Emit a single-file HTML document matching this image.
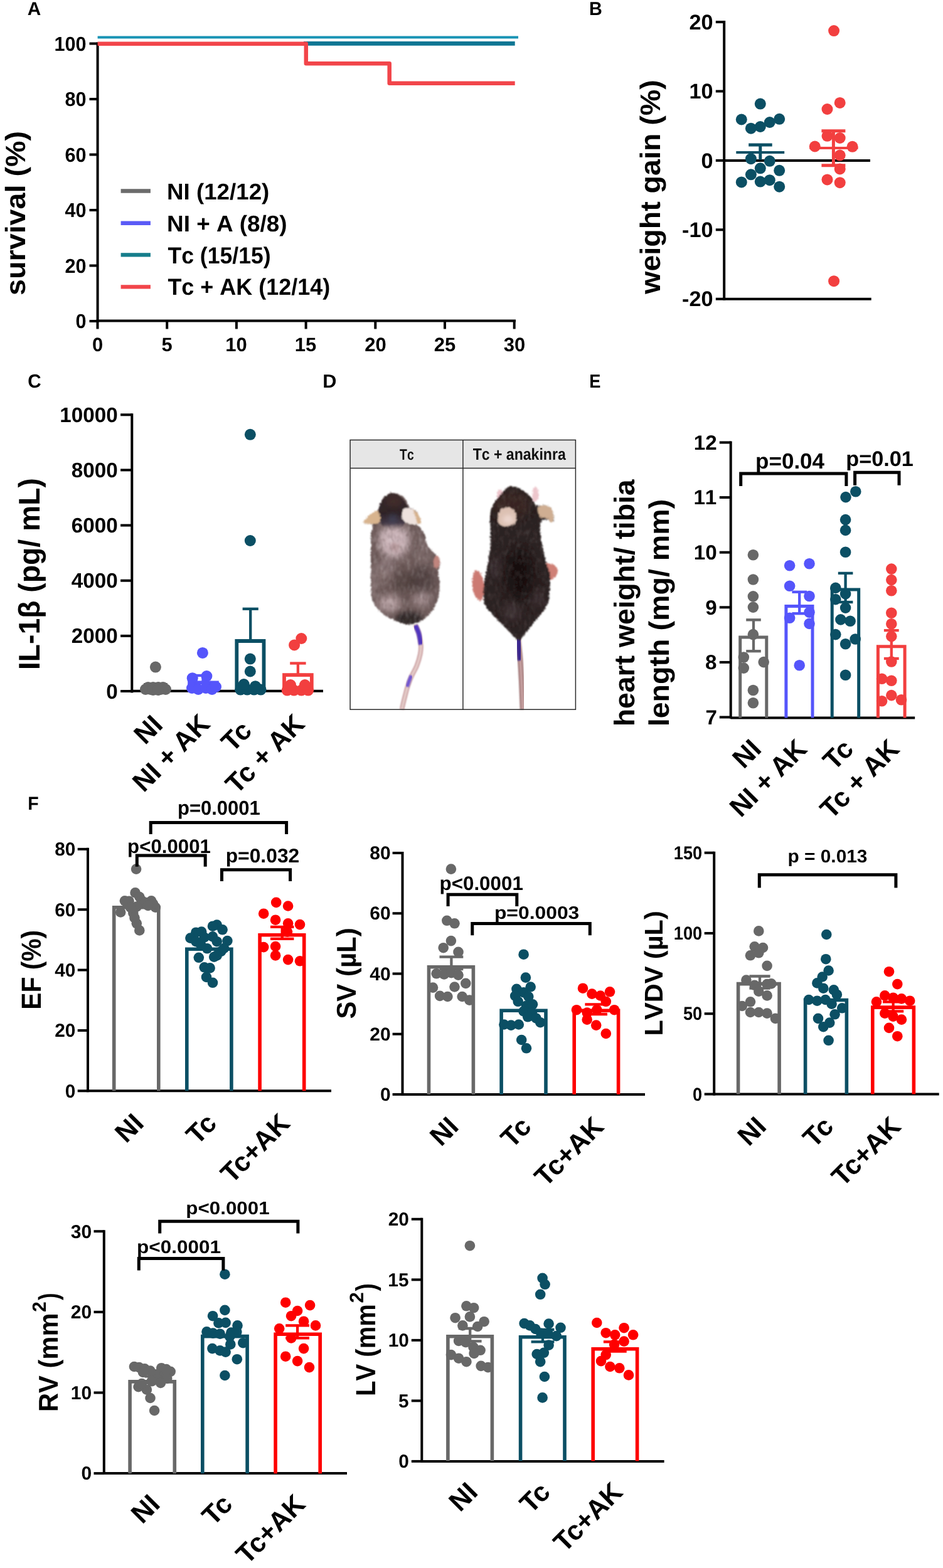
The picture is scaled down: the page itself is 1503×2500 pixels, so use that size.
<!DOCTYPE html>
<html><head><meta charset="utf-8"><title>Figure</title>
<style>
html,body{margin:0;padding:0;background:#fff;}
body{width:1503px;height:2500px;overflow:hidden;}
svg{display:block;font-kerning:none;text-rendering:geometricPrecision;}
</style></head><body>
<svg width="1503" height="2500" viewBox="0 0 1503 2500" font-family="'Liberation Sans', Arial, sans-serif" font-weight="bold"><text x="43.66" y="23.80" font-size="29.94" textLength="21.53" lengthAdjust="spacingAndGlyphs" fill="#000">A</text>
<text x="938.97" y="23.90" font-size="30.09" textLength="20.84" lengthAdjust="spacingAndGlyphs" fill="#000">B</text>
<text x="44.18" y="618.00" font-size="30.51" textLength="21.43" lengthAdjust="spacingAndGlyphs" fill="#000">C</text>
<text x="514.15" y="617.90" font-size="30.23" textLength="22.14" lengthAdjust="spacingAndGlyphs" fill="#000">D</text>
<text x="939.18" y="617.90" font-size="30.23" textLength="18.19" lengthAdjust="spacingAndGlyphs" fill="#000">E</text>
<text x="44.29" y="1290.50" font-size="29.65" textLength="17.46" lengthAdjust="spacingAndGlyphs" fill="#000">F</text>
<line x1="155.60" y1="67.50" x2="155.60" y2="513.50" stroke="#000" stroke-width="4.00"/>
<line x1="142.50" y1="512.00" x2="155.60" y2="512.00" stroke="#000" stroke-width="4.00"/>
<text x="120.53" y="523.04" font-size="32.06" textLength="17.03" lengthAdjust="spacingAndGlyphs" fill="#000">0</text>
<line x1="142.50" y1="423.50" x2="155.60" y2="423.50" stroke="#000" stroke-width="4.00"/>
<text x="103.50" y="434.54" font-size="32.06" textLength="34.06" lengthAdjust="spacingAndGlyphs" fill="#000">20</text>
<line x1="142.50" y1="335.00" x2="155.60" y2="335.00" stroke="#000" stroke-width="4.00"/>
<text x="103.50" y="346.04" font-size="32.06" textLength="34.06" lengthAdjust="spacingAndGlyphs" fill="#000">40</text>
<line x1="142.50" y1="246.50" x2="155.60" y2="246.50" stroke="#000" stroke-width="4.00"/>
<text x="103.50" y="257.54" font-size="32.06" textLength="34.06" lengthAdjust="spacingAndGlyphs" fill="#000">60</text>
<line x1="142.50" y1="158.00" x2="155.60" y2="158.00" stroke="#000" stroke-width="4.00"/>
<text x="103.50" y="169.04" font-size="32.06" textLength="34.06" lengthAdjust="spacingAndGlyphs" fill="#000">80</text>
<line x1="142.50" y1="69.50" x2="155.60" y2="69.50" stroke="#000" stroke-width="4.00"/>
<text x="86.47" y="80.54" font-size="32.06" textLength="51.08" lengthAdjust="spacingAndGlyphs" fill="#000">100</text>
<line x1="153.60" y1="511.50" x2="822.00" y2="511.50" stroke="#000" stroke-width="4.00"/>
<line x1="155.50" y1="511.50" x2="155.50" y2="524.50" stroke="#000" stroke-width="4.00"/>
<text x="146.90" y="560.00" font-size="31.00" textLength="17.24" lengthAdjust="spacingAndGlyphs" fill="#000">0</text>
<line x1="266.20" y1="511.50" x2="266.20" y2="524.50" stroke="#000" stroke-width="4.00"/>
<text x="257.53" y="560.00" font-size="31.00" textLength="17.24" lengthAdjust="spacingAndGlyphs" fill="#000">5</text>
<line x1="376.90" y1="511.50" x2="376.90" y2="524.50" stroke="#000" stroke-width="4.00"/>
<text x="359.32" y="560.00" font-size="31.00" textLength="34.48" lengthAdjust="spacingAndGlyphs" fill="#000">10</text>
<line x1="487.60" y1="511.50" x2="487.60" y2="524.50" stroke="#000" stroke-width="4.00"/>
<text x="469.81" y="560.00" font-size="31.00" textLength="34.48" lengthAdjust="spacingAndGlyphs" fill="#000">15</text>
<line x1="598.30" y1="511.50" x2="598.30" y2="524.50" stroke="#000" stroke-width="4.00"/>
<text x="581.16" y="560.00" font-size="31.00" textLength="34.48" lengthAdjust="spacingAndGlyphs" fill="#000">20</text>
<line x1="709.00" y1="511.50" x2="709.00" y2="524.50" stroke="#000" stroke-width="4.00"/>
<text x="691.65" y="560.00" font-size="31.00" textLength="34.48" lengthAdjust="spacingAndGlyphs" fill="#000">25</text>
<line x1="819.70" y1="511.50" x2="819.70" y2="524.50" stroke="#000" stroke-width="4.00"/>
<text x="802.74" y="560.00" font-size="31.00" textLength="34.48" lengthAdjust="spacingAndGlyphs" fill="#000">30</text>
<line x1="155.60" y1="59.40" x2="826.00" y2="59.40" stroke="#1893b4" stroke-width="4.00"/>
<line x1="484.00" y1="69.40" x2="820.70" y2="69.40" stroke="#0e7693" stroke-width="6.80"/>
<path d="M155.6 69.7 H487.8 V101.3 H620.7 V132.8 H820.7" stroke="#f2454a" stroke-width="6.50" fill="none" stroke-linejoin="round"/>
<line x1="192.60" y1="304.50" x2="239.90" y2="304.50" stroke="#6b6b6b" stroke-width="6.40"/>
<line x1="192.60" y1="355.70" x2="239.90" y2="355.70" stroke="#5a5af6" stroke-width="6.40"/>
<line x1="192.60" y1="406.40" x2="239.90" y2="406.40" stroke="#157d8b" stroke-width="6.40"/>
<line x1="192.60" y1="457.40" x2="239.90" y2="457.40" stroke="#f2454a" stroke-width="6.40"/>
<text x="266.04" y="318.30" font-size="36.34" textLength="163.29" lengthAdjust="spacingAndGlyphs" fill="#000">NI (12/12)</text>
<text x="266.03" y="368.50" font-size="36.19" textLength="191.60" lengthAdjust="spacingAndGlyphs" fill="#000">NI + A (8/8)</text>
<text x="267.40" y="419.50" font-size="37.06" textLength="164.27" lengthAdjust="spacingAndGlyphs" fill="#000">Tc (15/15)</text>
<text x="267.40" y="469.70" font-size="37.06" textLength="258.90" lengthAdjust="spacingAndGlyphs" fill="#000">Tc + AK (12/14)</text>
<text transform="translate(40.30 470.94) rotate(-90)" x="0" y="0" font-size="44.50" textLength="261.97" lengthAdjust="spacingAndGlyphs" fill="#000">survival (%)</text>
<line x1="1154.20" y1="33.10" x2="1154.20" y2="478.70" stroke="#000" stroke-width="4.00"/>
<line x1="1140.80" y1="35.10" x2="1154.20" y2="35.10" stroke="#000" stroke-width="4.00"/>
<text x="1098.41" y="46.77" font-size="33.90" textLength="38.09" lengthAdjust="spacingAndGlyphs" fill="#000">20</text>
<line x1="1140.80" y1="145.50" x2="1154.20" y2="145.50" stroke="#000" stroke-width="4.00"/>
<text x="1098.41" y="157.17" font-size="33.90" textLength="38.09" lengthAdjust="spacingAndGlyphs" fill="#000">10</text>
<line x1="1140.80" y1="255.90" x2="1154.20" y2="255.90" stroke="#000" stroke-width="4.00"/>
<text x="1117.46" y="267.57" font-size="33.90" textLength="19.05" lengthAdjust="spacingAndGlyphs" fill="#000">0</text>
<line x1="1140.80" y1="366.30" x2="1154.20" y2="366.30" stroke="#000" stroke-width="4.00"/>
<text x="1087.01" y="377.97" font-size="33.90" textLength="49.50" lengthAdjust="spacingAndGlyphs" fill="#000">-10</text>
<line x1="1140.80" y1="476.70" x2="1154.20" y2="476.70" stroke="#000" stroke-width="4.00"/>
<text x="1087.01" y="488.37" font-size="33.90" textLength="49.50" lengthAdjust="spacingAndGlyphs" fill="#000">-20</text>
<line x1="1154.30" y1="476.70" x2="1388.70" y2="476.70" stroke="#000" stroke-width="4.00"/>
<line x1="1154.30" y1="256.10" x2="1387.00" y2="256.10" stroke="#000" stroke-width="4.00"/>
<text transform="translate(1052.40 468.86) rotate(-90)" x="0" y="0" font-size="45.00" textLength="341.68" lengthAdjust="spacingAndGlyphs" fill="#000">weight gain (%)</text>
<g fill="#0b4f64"><circle cx="1211.8" cy="165.6" r="9.00"/><circle cx="1181.8" cy="190.5" r="9.00"/><circle cx="1242.2" cy="189.8" r="9.00"/><circle cx="1226.8" cy="195.0" r="9.00"/><circle cx="1211.8" cy="202.0" r="9.00"/><circle cx="1196.9" cy="204.7" r="9.00"/><circle cx="1196.9" cy="253.2" r="9.00"/><circle cx="1226.8" cy="256.8" r="9.00"/><circle cx="1211.8" cy="268.3" r="9.00"/><circle cx="1242.2" cy="271.8" r="9.00"/><circle cx="1196.9" cy="278.3" r="9.00"/><circle cx="1181.8" cy="290.4" r="9.00"/><circle cx="1211.8" cy="289.6" r="9.00"/><circle cx="1226.8" cy="287.2" r="9.00"/><circle cx="1242.2" cy="297.7" r="9.00"/></g>
<line x1="1173.30" y1="242.90" x2="1250.20" y2="242.90" stroke="#0b4f64" stroke-width="4.00"/>
<line x1="1211.80" y1="231.00" x2="1211.80" y2="254.80" stroke="#0b4f64" stroke-width="5.00"/>
<line x1="1193.20" y1="231.00" x2="1230.70" y2="231.00" stroke="#0b4f64" stroke-width="5.00"/>
<g fill="#f23f3f"><circle cx="1329.1" cy="49.1" r="9.00"/><circle cx="1338.7" cy="163.9" r="9.00"/><circle cx="1318.5" cy="174.0" r="9.00"/><circle cx="1318.5" cy="216.8" r="9.00"/><circle cx="1338.7" cy="220.0" r="9.00"/><circle cx="1298.8" cy="233.5" r="9.00"/><circle cx="1358.6" cy="233.8" r="9.00"/><circle cx="1338.7" cy="247.6" r="9.00"/><circle cx="1338.7" cy="269.4" r="9.00"/><circle cx="1318.5" cy="286.4" r="9.00"/><circle cx="1338.7" cy="291.2" r="9.00"/><circle cx="1329.1" cy="448.2" r="9.00"/></g>
<line x1="1290.50" y1="235.90" x2="1367.50" y2="235.90" stroke="#f23f3f" stroke-width="4.00"/>
<line x1="1328.40" y1="208.70" x2="1328.40" y2="263.70" stroke="#f23f3f" stroke-width="5.00"/>
<line x1="1309.40" y1="208.70" x2="1347.40" y2="208.70" stroke="#f23f3f" stroke-width="5.00"/>
<line x1="1309.40" y1="263.70" x2="1347.40" y2="263.70" stroke="#f23f3f" stroke-width="5.00"/>
<line x1="210.30" y1="659.30" x2="210.30" y2="1104.40" stroke="#000" stroke-width="4.00"/>
<line x1="192.10" y1="1102.00" x2="210.30" y2="1102.00" stroke="#000" stroke-width="4.00"/>
<text x="169.28" y="1113.52" font-size="33.47" textLength="18.48" lengthAdjust="spacingAndGlyphs" fill="#000">0</text>
<line x1="192.10" y1="1013.86" x2="210.30" y2="1013.86" stroke="#000" stroke-width="4.00"/>
<text x="113.85" y="1025.38" font-size="33.47" textLength="73.91" lengthAdjust="spacingAndGlyphs" fill="#000">2000</text>
<line x1="192.10" y1="925.72" x2="210.30" y2="925.72" stroke="#000" stroke-width="4.00"/>
<text x="113.85" y="937.24" font-size="33.47" textLength="73.91" lengthAdjust="spacingAndGlyphs" fill="#000">4000</text>
<line x1="192.10" y1="837.58" x2="210.30" y2="837.58" stroke="#000" stroke-width="4.00"/>
<text x="113.85" y="849.10" font-size="33.47" textLength="73.91" lengthAdjust="spacingAndGlyphs" fill="#000">6000</text>
<line x1="192.10" y1="749.44" x2="210.30" y2="749.44" stroke="#000" stroke-width="4.00"/>
<text x="113.85" y="760.96" font-size="33.47" textLength="73.91" lengthAdjust="spacingAndGlyphs" fill="#000">8000</text>
<line x1="192.10" y1="661.30" x2="210.30" y2="661.30" stroke="#000" stroke-width="4.00"/>
<text x="95.37" y="672.82" font-size="33.47" textLength="92.39" lengthAdjust="spacingAndGlyphs" fill="#000">10000</text>
<line x1="210.40" y1="1101.80" x2="515.00" y2="1101.80" stroke="#000" stroke-width="4.00"/>
<text transform="translate(62.70 1068.10) rotate(-90)" x="0" y="0" font-size="47.50" textLength="306.10" lengthAdjust="spacingAndGlyphs" fill="#000">IL-1β (pg/ mL)</text>
<path d="M231.75 1102.00 V1091.75 H264.25 V1102.00" stroke="#686868" stroke-width="5.50" fill="none" stroke-linejoin="miter"/>
<g fill="#686868"><circle cx="247.9" cy="1063.6" r="9.00"/><circle cx="232.0" cy="1099.0" r="9.00"/><circle cx="240.0" cy="1099.0" r="9.00"/><circle cx="248.0" cy="1099.0" r="9.00"/><circle cx="256.0" cy="1099.0" r="9.00"/><circle cx="264.0" cy="1099.0" r="9.00"/><circle cx="236.0" cy="1096.0" r="9.00"/><circle cx="244.0" cy="1096.0" r="9.00"/><circle cx="252.0" cy="1096.0" r="9.00"/><circle cx="260.0" cy="1096.0" r="9.00"/><circle cx="244.0" cy="1100.0" r="9.00"/><circle cx="252.0" cy="1100.0" r="9.00"/></g>
<path d="M301.95 1102.00 V1088.35 H346.05 V1102.00" stroke="#5555fb" stroke-width="5.50" fill="none" stroke-linejoin="miter"/>
<g fill="#5555fb"><circle cx="322.9" cy="1040.9" r="9.00"/><circle cx="306.7" cy="1081.2" r="9.00"/><circle cx="329.4" cy="1078.0" r="9.00"/><circle cx="306.0" cy="1097.0" r="9.00"/><circle cx="316.0" cy="1099.0" r="9.00"/><circle cx="328.0" cy="1097.0" r="9.00"/><circle cx="338.0" cy="1099.0" r="9.00"/><circle cx="344.0" cy="1095.0" r="9.00"/></g>
<line x1="323.50" y1="1077.00" x2="323.50" y2="1088.00" stroke="#5555fb" stroke-width="4.30"/>
<line x1="311.50" y1="1077.00" x2="335.50" y2="1077.00" stroke="#5555fb" stroke-width="4.30"/>
<line x1="311.50" y1="1088.00" x2="335.50" y2="1088.00" stroke="#5555fb" stroke-width="4.30"/>
<path d="M377.30 1102.00 V1022.00 H420.50 V1102.00" stroke="#0b4f64" stroke-width="5.80" fill="none" stroke-linejoin="miter"/>
<line x1="399.20" y1="970.80" x2="399.20" y2="1022.00" stroke="#0b4f64" stroke-width="4.30"/>
<line x1="386.60" y1="970.80" x2="411.80" y2="970.80" stroke="#0b4f64" stroke-width="4.30"/>
<line x1="386.60" y1="1022.00" x2="411.80" y2="1022.00" stroke="#0b4f64" stroke-width="4.30"/>
<g fill="#0b4f64"><circle cx="398.8" cy="692.8" r="9.00"/><circle cx="398.8" cy="862.0" r="9.00"/><circle cx="398.8" cy="1050.6" r="9.00"/><circle cx="398.8" cy="1070.5" r="9.00"/><circle cx="383.3" cy="1099.6" r="9.00"/><circle cx="394.0" cy="1099.6" r="9.00"/><circle cx="404.9" cy="1099.6" r="9.00"/><circle cx="415.6" cy="1099.6" r="9.00"/><circle cx="388.7" cy="1091.0" r="9.00"/><circle cx="407.0" cy="1094.2" r="9.00"/></g>
<path d="M453.00 1102.00 V1076.20 H496.80 V1102.00" stroke="#f23f3f" stroke-width="5.80" fill="none" stroke-linejoin="miter"/>
<line x1="474.90" y1="1057.50" x2="474.90" y2="1076.00" stroke="#f23f3f" stroke-width="4.30"/>
<line x1="462.20" y1="1057.50" x2="487.60" y2="1057.50" stroke="#f23f3f" stroke-width="4.30"/>
<line x1="462.20" y1="1076.00" x2="487.60" y2="1076.00" stroke="#f23f3f" stroke-width="4.30"/>
<g fill="#f23f3f"><circle cx="480.3" cy="1018.0" r="9.00"/><circle cx="469.1" cy="1028.4" r="9.00"/><circle cx="457.7" cy="1100.6" r="9.00"/><circle cx="468.5" cy="1100.6" r="9.00"/><circle cx="480.3" cy="1100.6" r="9.00"/><circle cx="491.1" cy="1100.6" r="9.00"/><circle cx="463.0" cy="1092.0" r="9.00"/><circle cx="486.0" cy="1092.0" r="9.00"/></g>
<text transform="translate(261.60 1158.30) rotate(-45)" x="0" y="0" font-size="43.00" text-anchor="end" style="font-kerning:normal" fill="#000">NI</text>
<text transform="translate(336.90 1156.80) rotate(-45)" x="0" y="0" font-size="43.00" text-anchor="end" style="font-kerning:normal" fill="#000">NI + AK</text>
<text transform="translate(403.70 1167.50) rotate(-45)" x="0" y="0" font-size="43.00" text-anchor="end" style="font-kerning:normal" fill="#000">Tc</text>
<text transform="translate(487.90 1156.80) rotate(-45)" x="0" y="0" font-size="43.00" text-anchor="end" style="font-kerning:normal" fill="#000">Tc + AK</text>
<rect x="558.1" y="701.5" width="359.3" height="45.1" fill="#e6e6e6"/>
<defs><filter id="bl1" x="-20%" y="-20%" width="140%" height="140%"><feGaussianBlur stdDeviation="1.1"/></filter><filter id="bl3" x="-50%" y="-50%" width="200%" height="200%"><feGaussianBlur stdDeviation="3.5"/></filter><filter id="bl6" x="-50%" y="-50%" width="200%" height="200%"><feGaussianBlur stdDeviation="6"/></filter><filter id="fur" x="0" y="0" width="100%" height="100%"><feTurbulence type="fractalNoise" baseFrequency="0.28 0.09" numOctaves="3" seed="7" result="n"/><feColorMatrix in="n" type="matrix" values="0 0 0 0 1  0 0 0 0 1  0 0 0 0 1  1.6 0 0 0 -0.75"/></filter><filter id="furd" x="0" y="0" width="100%" height="100%"><feTurbulence type="fractalNoise" baseFrequency="0.3 0.1" numOctaves="3" seed="11" result="n"/><feColorMatrix in="n" type="matrix" values="0 0 0 0 0.05  0 0 0 0 0.03  0 0 0 0 0.03  1.8 0 0 0 -0.85"/></filter><filter id="furry" x="-10%" y="-10%" width="120%" height="120%"><feTurbulence type="fractalNoise" baseFrequency="0.45" numOctaves="2" seed="3" result="t"/><feDisplacementMap in="SourceGraphic" in2="t" scale="5" xChannelSelector="R" yChannelSelector="G" result="d"/><feGaussianBlur in="d" stdDeviation="0.9"/></filter><clipPath id="c1"><path d="M624.6 786.2 C628.4 786.0 634.3 787.2 638.0 789.0 C641.7 790.8 644.7 793.8 647.0 797.0 C649.3 800.2 649.7 805.3 652.0 808.0 C654.3 810.7 658.5 810.8 661.0 813.0 C663.5 815.2 665.4 817.7 667.0 821.0 C668.6 824.3 671.0 830.4 670.5 833.0 C670.0 835.6 664.1 835.2 664.0 836.5 C663.9 837.8 667.8 838.2 670.0 841.0 C672.2 843.8 675.2 848.3 677.0 853.0 C678.8 857.7 678.8 864.5 681.0 869.0 C683.2 873.5 686.8 876.3 690.0 880.0 C693.2 883.7 698.2 887.0 700.0 891.0 C701.8 895.0 701.3 900.5 701.0 904.0 C700.7 907.5 698.1 908.5 698.0 912.0 C697.9 915.5 700.1 920.3 700.5 925.0 C700.9 929.7 700.9 935.0 700.5 940.0 C700.1 945.0 699.4 950.2 698.0 955.0 C696.6 959.8 694.8 964.3 692.0 969.0 C689.2 973.7 685.2 979.2 681.0 983.0 C676.8 986.8 671.8 989.9 667.0 992.0 C662.2 994.1 657.2 995.5 652.0 995.5 C646.8 995.5 641.3 993.8 636.0 992.0 C630.7 990.2 625.0 987.8 620.0 985.0 C615.0 982.2 610.0 978.8 606.0 975.0 C602.0 971.2 598.4 967.0 596.0 962.0 C593.6 957.0 592.3 952.8 591.5 945.0 C590.7 937.2 591.1 925.8 591.0 915.0 C590.9 904.2 590.9 890.5 591.0 880.0 C591.1 869.5 591.0 859.0 591.5 852.0 C592.0 845.0 594.9 840.9 594.0 838.0 C593.1 835.1 588.4 835.3 586.0 834.5 C583.6 833.7 579.4 835.1 579.6 833.2 C579.8 831.3 584.1 825.9 587.0 823.0 C589.9 820.1 594.2 818.0 597.0 816.0 C599.8 814.0 602.2 814.0 604.0 811.0 C605.8 808.0 606.2 801.5 608.0 798.0 C609.8 794.5 612.2 792.0 615.0 790.0 C617.8 788.0 620.8 786.4 624.6 786.2 Z"/></clipPath><clipPath id="c2"><path d="M812.8 775.4 C816.6 774.6 821.6 776.2 826.0 778.0 C830.4 779.8 835.2 783.0 839.0 786.0 C842.8 789.0 846.5 792.7 849.0 796.0 C851.5 799.3 851.3 804.5 854.3 806.0 C857.3 807.5 863.0 804.3 867.0 805.0 C871.0 805.7 875.5 807.2 878.0 810.0 C880.5 812.8 881.5 818.3 882.0 822.0 C882.5 825.7 883.3 831.0 881.0 832.0 C878.7 833.0 871.3 827.3 868.0 828.0 C864.7 828.7 862.0 831.5 861.0 836.0 C860.0 840.5 861.3 848.6 862.0 855.0 C862.7 861.4 864.1 868.1 865.3 874.3 C866.5 880.5 867.9 887.4 869.0 892.0 C870.1 896.6 870.7 897.7 872.0 902.0 C873.3 906.3 876.3 912.6 877.0 918.0 C877.7 923.4 876.5 929.2 876.2 934.5 C876.0 939.8 876.0 945.4 875.5 950.0 C875.0 954.6 874.9 957.5 873.0 962.0 C871.1 966.5 867.3 972.3 864.0 977.0 C860.7 981.7 856.5 985.7 853.0 990.0 C849.5 994.3 846.1 999.2 843.0 1003.0 C839.9 1006.8 837.0 1010.1 834.5 1013.0 C832.0 1015.9 830.4 1019.8 828.1 1020.5 C825.9 1021.2 823.9 1019.9 821.0 1017.5 C818.1 1015.1 814.7 1009.9 811.0 1006.0 C807.3 1002.1 803.2 998.2 799.0 994.0 C794.8 989.8 790.0 985.3 786.0 981.0 C782.0 976.7 777.5 972.3 775.0 968.0 C772.5 963.7 771.7 960.5 771.0 955.0 C770.3 949.5 770.3 942.2 771.0 935.0 C771.7 927.8 773.8 919.0 775.0 912.0 C776.2 905.0 777.4 900.0 778.5 893.0 C779.6 886.0 781.0 878.0 781.5 870.0 C782.0 862.0 781.6 853.0 781.5 845.0 C781.4 837.0 780.4 828.5 781.0 822.0 C781.6 815.5 782.7 811.0 785.0 806.0 C787.3 801.0 792.0 795.8 795.0 792.0 C798.0 788.2 800.0 785.8 803.0 783.0 C806.0 780.2 809.0 776.2 812.8 775.4 Z"/></clipPath></defs>
<path d="M662.0 996.0 C662.9 998.3 666.0 1004.7 667.5 1010.0 C669.0 1015.3 670.4 1022.2 670.8 1027.7 C671.2 1033.2 670.9 1037.1 669.8 1042.8 C668.7 1048.5 666.4 1056.0 664.2 1061.7 C662.0 1067.4 658.9 1071.8 656.6 1076.8 C654.3 1081.8 652.3 1086.8 650.5 1092.0 C648.7 1097.2 647.3 1103.0 646.0 1108.0 C644.7 1113.0 643.4 1118.2 642.5 1122.0 C641.6 1125.8 640.9 1129.5 640.6 1131.0 " stroke="#c99ea0" stroke-width="7.4" fill="none" filter="url(#bl1)"/>
<path d="M662.0 996.0 C662.9 998.3 666.0 1004.7 667.5 1010.0 C669.0 1015.3 670.4 1022.2 670.8 1027.7 C671.2 1033.2 670.9 1037.1 669.8 1042.8 C668.7 1048.5 666.4 1056.0 664.2 1061.7 C662.0 1067.4 658.9 1071.8 656.6 1076.8 C654.3 1081.8 652.3 1086.8 650.5 1092.0 C648.7 1097.2 647.3 1103.0 646.0 1108.0 C644.7 1113.0 643.4 1118.2 642.5 1122.0 C641.6 1125.8 640.9 1129.5 640.6 1131.0 " stroke="#e4cbc8" stroke-width="4.2" fill="none" filter="url(#bl1)"/>
<path d="M662.0 997.0 C662.9 999.2 666.0 1004.9 667.5 1010.0 C669.0 1015.1 670.2 1024.8 670.8 1027.7 " stroke="#4f35bd" stroke-width="7.2" fill="none" filter="url(#bl1)"/>
<path d="M655.5 1077.0 C654.9 1078.5 653.1 1083.0 652.0 1086.0 C650.9 1089.0 649.5 1093.5 649.0 1095.0 " stroke="#6f55d0" stroke-width="5.5" fill="none" filter="url(#bl1)"/>
<g filter="url(#furry)">
<path d="M624.6 786.2 C628.4 786.0 634.3 787.2 638.0 789.0 C641.7 790.8 644.7 793.8 647.0 797.0 C649.3 800.2 649.7 805.3 652.0 808.0 C654.3 810.7 658.5 810.8 661.0 813.0 C663.5 815.2 665.4 817.7 667.0 821.0 C668.6 824.3 671.0 830.4 670.5 833.0 C670.0 835.6 664.1 835.2 664.0 836.5 C663.9 837.8 667.8 838.2 670.0 841.0 C672.2 843.8 675.2 848.3 677.0 853.0 C678.8 857.7 678.8 864.5 681.0 869.0 C683.2 873.5 686.8 876.3 690.0 880.0 C693.2 883.7 698.2 887.0 700.0 891.0 C701.8 895.0 701.3 900.5 701.0 904.0 C700.7 907.5 698.1 908.5 698.0 912.0 C697.9 915.5 700.1 920.3 700.5 925.0 C700.9 929.7 700.9 935.0 700.5 940.0 C700.1 945.0 699.4 950.2 698.0 955.0 C696.6 959.8 694.8 964.3 692.0 969.0 C689.2 973.7 685.2 979.2 681.0 983.0 C676.8 986.8 671.8 989.9 667.0 992.0 C662.2 994.1 657.2 995.5 652.0 995.5 C646.8 995.5 641.3 993.8 636.0 992.0 C630.7 990.2 625.0 987.8 620.0 985.0 C615.0 982.2 610.0 978.8 606.0 975.0 C602.0 971.2 598.4 967.0 596.0 962.0 C593.6 957.0 592.3 952.8 591.5 945.0 C590.7 937.2 591.1 925.8 591.0 915.0 C590.9 904.2 590.9 890.5 591.0 880.0 C591.1 869.5 591.0 859.0 591.5 852.0 C592.0 845.0 594.9 840.9 594.0 838.0 C593.1 835.1 588.4 835.3 586.0 834.5 C583.6 833.7 579.4 835.1 579.6 833.2 C579.8 831.3 584.1 825.9 587.0 823.0 C589.9 820.1 594.2 818.0 597.0 816.0 C599.8 814.0 602.2 814.0 604.0 811.0 C605.8 808.0 606.2 801.5 608.0 798.0 C609.8 794.5 612.2 792.0 615.0 790.0 C617.8 788.0 620.8 786.4 624.6 786.2 Z" fill="#6f5c5b"/>
<g clip-path="url(#c1)">
<ellipse cx="628" cy="862" rx="25" ry="28" fill="#d4bdc2" opacity="0.9" filter="url(#bl6)"/>
<ellipse cx="615" cy="905" rx="14" ry="16" fill="#a89498" opacity="0.5" filter="url(#bl6)"/>
<ellipse cx="630" cy="872" rx="6" ry="5" fill="#8a5a58" opacity="0.5" filter="url(#bl3)"/>
<ellipse cx="676" cy="880" rx="12" ry="22" fill="#8e7c7c" opacity="0.5" filter="url(#bl6)"/>
<ellipse cx="672" cy="925" rx="20" ry="22" fill="#4c3c3d" opacity="0.75" filter="url(#bl6)"/>
<ellipse cx="645" cy="928" rx="18" ry="16" fill="#4a3a39" opacity="0.7" filter="url(#bl6)"/>
<ellipse cx="608" cy="918" rx="12" ry="14" fill="#857170" opacity="0.6" filter="url(#bl6)"/>
<ellipse cx="620" cy="962" rx="18" ry="12" fill="#c8b1b4" opacity="0.85" filter="url(#bl6)"/>
<ellipse cx="672" cy="955" rx="13" ry="12" fill="#bba5a8" opacity="0.7" filter="url(#bl6)"/>
<ellipse cx="652" cy="987" rx="22" ry="12" fill="#2f2526" opacity="0.95" filter="url(#bl3)"/>
<ellipse cx="596" cy="930" rx="6" ry="30" fill="#9a8888" opacity="0.5" filter="url(#bl3)"/>
<rect x="575" y="780" width="135" height="220" filter="url(#fur)" opacity="0.35"/>
<rect x="575" y="780" width="135" height="220" filter="url(#furd)" opacity="0.45"/>
</g>
<linearGradient id="hg1" x1="0" y1="786" x2="0" y2="846" gradientUnits="userSpaceOnUse"><stop offset="0" stop-color="#3a2a2a"/><stop offset="0.55" stop-color="#2f2428"/><stop offset="0.8" stop-color="#3a3040" stop-opacity="0.85"/><stop offset="1" stop-color="#6f5c5b" stop-opacity="0"/></linearGradient>
<path d="M624.6 786.0 C626.9 785.8 628.8 786.7 631.0 787.5 C633.2 788.3 635.8 789.4 638.0 791.0 C640.2 792.6 642.2 794.5 644.0 797.0 C645.8 799.5 647.8 802.5 649.0 806.0 C650.2 809.5 651.3 813.7 651.0 818.0 C650.7 822.3 649.2 828.0 647.0 832.0 C644.8 836.0 641.5 839.7 638.0 842.0 C634.5 844.3 630.0 846.0 626.0 846.0 C622.0 846.0 617.3 844.3 614.0 842.0 C610.7 839.7 607.8 836.0 606.0 832.0 C604.2 828.0 603.2 822.5 603.0 818.0 C602.8 813.5 603.8 808.7 605.0 805.0 C606.2 801.3 608.0 798.7 610.0 796.0 C612.0 793.3 614.6 790.7 617.0 789.0 C619.4 787.3 622.3 786.2 624.6 786.0 Z" fill="url(#hg1)"/>
<ellipse cx="626" cy="827" rx="7" ry="8" fill="#44506e" opacity="0.45" filter="url(#bl3)"/>
<ellipse cx="628" cy="800" rx="12" ry="8" fill="#4a302c" opacity="0.6" filter="url(#bl3)"/>
<path d="M579.6 833.2 C578.3 831.5 582.8 827.5 585.0 825.0 C587.2 822.5 590.3 819.8 593.0 818.0 C595.7 816.2 599.1 813.5 601.3 814.5 C603.5 815.5 605.7 820.8 606.0 824.0 C606.3 827.2 605.2 832.2 603.0 834.0 C600.8 835.8 596.9 835.1 593.0 835.0 C589.1 834.9 580.9 834.9 579.6 833.2 Z" fill="#d8b48e"/>
<path d="M643.0 812.0 C645.0 809.5 649.8 809.5 653.0 810.0 C656.2 810.5 659.5 812.7 662.0 815.0 C664.5 817.3 666.8 820.8 668.0 824.0 C669.2 827.2 670.3 832.0 669.0 834.0 C667.7 836.0 663.5 836.0 660.0 836.0 C656.5 836.0 651.2 835.8 648.0 834.0 C644.8 832.2 641.8 828.7 641.0 825.0 C640.2 821.3 641.0 814.5 643.0 812.0 Z" fill="#eee2dd"/>
<path d="M658.0 813.0 C658.5 812.2 663.0 815.5 665.0 818.0 C667.0 820.5 669.0 825.2 670.0 828.0 C671.0 830.8 671.8 834.2 671.0 835.0 C670.2 835.8 666.5 835.0 665.0 833.0 C663.5 831.0 663.2 826.3 662.0 823.0 C660.8 819.7 657.5 813.8 658.0 813.0 Z" fill="#d7b28d"/>
<ellipse cx="696" cy="896" rx="5" ry="10" fill="#c98a82" opacity="0.9"/>
</g>
<path d="M825.5 1016.0 C825.8 1019.2 826.9 1029.0 827.5 1035.0 C828.1 1041.0 828.6 1044.1 829.2 1052.3 C829.8 1060.5 830.6 1074.7 831.1 1084.3 C831.6 1093.9 831.9 1102.2 832.2 1110.0 C832.5 1117.8 832.9 1127.5 833.0 1131.0 " stroke="#9f7474" stroke-width="8.4" fill="none" filter="url(#bl1)"/>
<path d="M825.5 1016.0 C825.8 1019.2 826.9 1029.0 827.5 1035.0 C828.1 1041.0 828.6 1044.1 829.2 1052.3 C829.8 1060.5 830.6 1074.7 831.1 1084.3 C831.6 1093.9 831.9 1102.2 832.2 1110.0 C832.5 1117.8 832.9 1127.5 833.0 1131.0 " stroke="#c7a2a2" stroke-width="4" fill="none" filter="url(#bl1)"/>
<path d="M825.5 1018.0 C825.8 1020.8 826.9 1029.2 827.5 1035.0 C828.1 1040.8 828.9 1050.0 829.2 1053.0 " stroke="#3b278e" stroke-width="8.6" fill="none" filter="url(#bl1)"/>
<g filter="url(#furry)">
<path d="M757.0 910.0 C758.8 908.2 761.8 909.5 764.0 912.0 C766.2 914.5 768.8 919.5 770.0 925.0 C771.2 930.5 771.5 939.7 771.0 945.0 C770.5 950.3 768.8 955.5 767.0 957.0 C765.2 958.5 762.2 956.5 760.0 954.0 C757.8 951.5 755.2 947.2 754.0 942.0 C752.8 936.8 752.5 928.3 753.0 923.0 C753.5 917.7 755.2 911.8 757.0 910.0 Z" fill="#cc7a72"/>
<path d="M870.0 900.0 C871.2 896.5 875.3 898.5 878.0 899.0 C880.7 899.5 884.2 901.0 886.0 903.0 C887.8 905.0 889.2 908.2 889.0 911.0 C888.8 913.8 887.0 917.8 885.0 920.0 C883.0 922.2 879.3 924.0 877.0 924.0 C874.7 924.0 872.2 924.0 871.0 920.0 C869.8 916.0 868.8 903.5 870.0 900.0 Z" fill="#cf8076"/>
<ellipse cx="797" cy="789" rx="5" ry="9" fill="#e8b8bf" opacity="0.8"/>
<ellipse cx="853.5" cy="788" rx="5" ry="12" fill="#e8b8bf" opacity="0.8"/>
<path d="M812.8 775.4 C816.6 774.6 821.6 776.2 826.0 778.0 C830.4 779.8 835.2 783.0 839.0 786.0 C842.8 789.0 846.5 792.7 849.0 796.0 C851.5 799.3 851.3 804.5 854.3 806.0 C857.3 807.5 863.0 804.3 867.0 805.0 C871.0 805.7 875.5 807.2 878.0 810.0 C880.5 812.8 881.5 818.3 882.0 822.0 C882.5 825.7 883.3 831.0 881.0 832.0 C878.7 833.0 871.3 827.3 868.0 828.0 C864.7 828.7 862.0 831.5 861.0 836.0 C860.0 840.5 861.3 848.6 862.0 855.0 C862.7 861.4 864.1 868.1 865.3 874.3 C866.5 880.5 867.9 887.4 869.0 892.0 C870.1 896.6 870.7 897.7 872.0 902.0 C873.3 906.3 876.3 912.6 877.0 918.0 C877.7 923.4 876.5 929.2 876.2 934.5 C876.0 939.8 876.0 945.4 875.5 950.0 C875.0 954.6 874.9 957.5 873.0 962.0 C871.1 966.5 867.3 972.3 864.0 977.0 C860.7 981.7 856.5 985.7 853.0 990.0 C849.5 994.3 846.1 999.2 843.0 1003.0 C839.9 1006.8 837.0 1010.1 834.5 1013.0 C832.0 1015.9 830.4 1019.8 828.1 1020.5 C825.9 1021.2 823.9 1019.9 821.0 1017.5 C818.1 1015.1 814.7 1009.9 811.0 1006.0 C807.3 1002.1 803.2 998.2 799.0 994.0 C794.8 989.8 790.0 985.3 786.0 981.0 C782.0 976.7 777.5 972.3 775.0 968.0 C772.5 963.7 771.7 960.5 771.0 955.0 C770.3 949.5 770.3 942.2 771.0 935.0 C771.7 927.8 773.8 919.0 775.0 912.0 C776.2 905.0 777.4 900.0 778.5 893.0 C779.6 886.0 781.0 878.0 781.5 870.0 C782.0 862.0 781.6 853.0 781.5 845.0 C781.4 837.0 780.4 828.5 781.0 822.0 C781.6 815.5 782.7 811.0 785.0 806.0 C787.3 801.0 792.0 795.8 795.0 792.0 C798.0 788.2 800.0 785.8 803.0 783.0 C806.0 780.2 809.0 776.2 812.8 775.4 Z" fill="#2a2020"/>
<g clip-path="url(#c2)">
<ellipse cx="815" cy="805" rx="30" ry="22" fill="#3a2823" opacity="0.8" filter="url(#bl6)"/>
<ellipse cx="790" cy="905" rx="10" ry="18" fill="#3e3234" opacity="0.7" filter="url(#bl6)"/>
<ellipse cx="815" cy="975" rx="14" ry="14" fill="#45373a" opacity="0.7" filter="url(#bl6)"/>
<ellipse cx="858" cy="955" rx="9" ry="15" fill="#403336" opacity="0.7" filter="url(#bl6)"/>
<ellipse cx="828" cy="915" rx="22" ry="40" fill="#130e0e" opacity="0.8" filter="url(#bl6)"/>
<rect x="760" y="770" width="130" height="255" filter="url(#fur)" opacity="0.2"/>
</g>
<path d="M793.0 826.0 C792.8 822.5 794.2 817.8 796.0 815.0 C797.8 812.2 801.0 810.3 804.0 809.5 C807.0 808.7 811.2 808.9 814.0 810.0 C816.8 811.1 819.5 813.0 821.0 816.0 C822.5 819.0 823.5 824.7 823.0 828.0 C822.5 831.3 820.8 834.2 818.0 836.0 C815.2 837.8 809.5 839.0 806.0 839.0 C802.5 839.0 799.2 838.2 797.0 836.0 C794.8 833.8 793.2 829.5 793.0 826.0 Z" fill="#dcc0b2"/>
<ellipse cx="810" cy="828" rx="9" ry="7" fill="#f0dcd6" opacity="0.8" filter="url(#bl3)"/>
<path d="M857.0 810.0 C857.8 806.9 862.8 805.8 866.0 805.5 C869.2 805.2 873.5 806.2 876.0 808.0 C878.5 809.8 880.0 812.7 881.0 816.0 C882.0 819.3 882.3 825.2 882.0 828.0 C881.7 830.8 880.8 833.3 879.0 833.0 C877.2 832.7 874.0 827.5 871.0 826.0 C868.0 824.5 863.3 826.7 861.0 824.0 C858.7 821.3 856.2 813.1 857.0 810.0 Z" fill="#cfae92"/>
</g>
<g stroke="#2a2a2a" stroke-width="1.5" fill="none"><rect x="558.1" y="701.5" width="359.3" height="429.7"/><line x1="558.1" y1="746.6" x2="917.4" y2="746.6"/><line x1="737.9" y1="701.5" x2="737.9" y2="1131.2"/></g>
<text x="637.08" y="733.20" font-size="24.27" textLength="22.58" lengthAdjust="spacingAndGlyphs" fill="#111">Tc</text>
<text x="753.64" y="733.20" font-size="26.02" textLength="148.11" lengthAdjust="spacingAndGlyphs" fill="#111">Tc + anakinra</text>
<line x1="1164.70" y1="703.50" x2="1164.70" y2="1145.50" stroke="#000" stroke-width="4.00"/>
<line x1="1146.80" y1="1143.50" x2="1164.70" y2="1143.50" stroke="#000" stroke-width="4.00"/>
<text x="1124.40" y="1154.78" font-size="32.80" textLength="18.46" lengthAdjust="spacingAndGlyphs" fill="#000">7</text>
<line x1="1146.80" y1="1055.90" x2="1164.70" y2="1055.90" stroke="#000" stroke-width="4.00"/>
<text x="1123.96" y="1067.19" font-size="32.80" textLength="18.46" lengthAdjust="spacingAndGlyphs" fill="#000">8</text>
<line x1="1146.80" y1="968.30" x2="1164.70" y2="968.30" stroke="#000" stroke-width="4.00"/>
<text x="1124.17" y="979.59" font-size="32.80" textLength="18.46" lengthAdjust="spacingAndGlyphs" fill="#000">9</text>
<line x1="1146.80" y1="880.70" x2="1164.70" y2="880.70" stroke="#000" stroke-width="4.00"/>
<text x="1105.84" y="891.99" font-size="32.80" textLength="36.92" lengthAdjust="spacingAndGlyphs" fill="#000">10</text>
<line x1="1146.80" y1="793.10" x2="1164.70" y2="793.10" stroke="#000" stroke-width="4.00"/>
<text x="1105.40" y="804.38" font-size="32.80" textLength="36.92" lengthAdjust="spacingAndGlyphs" fill="#000">11</text>
<line x1="1146.80" y1="705.50" x2="1164.70" y2="705.50" stroke="#000" stroke-width="4.00"/>
<text x="1105.81" y="716.95" font-size="32.80" textLength="36.92" lengthAdjust="spacingAndGlyphs" fill="#000">12</text>
<line x1="1164.30" y1="1144.50" x2="1458.20" y2="1144.50" stroke="#000" stroke-width="4.00"/>
<text transform="translate(1010.70 1158.23) rotate(-90)" x="0" y="0" font-size="45.50" textLength="393.84" lengthAdjust="spacingAndGlyphs" fill="#000">heart weight/ tibia</text>
<text transform="translate(1065.90 1158.25) rotate(-90)" x="0" y="0" font-size="45.00" textLength="362.48" lengthAdjust="spacingAndGlyphs" fill="#000">length (mg/ mm)</text>
<path d="M1179.70 1144.50 V1016.10 H1221.80 V1144.50" stroke="#686868" stroke-width="5.00" fill="none" stroke-linejoin="miter"/>
<line x1="1201.00" y1="988.30" x2="1201.00" y2="1038.20" stroke="#686868" stroke-width="4.30"/>
<line x1="1189.20" y1="988.30" x2="1212.80" y2="988.30" stroke="#686868" stroke-width="4.30"/>
<line x1="1189.20" y1="1038.20" x2="1212.80" y2="1038.20" stroke="#686868" stroke-width="4.30"/>
<g fill="#686868"><circle cx="1200.4" cy="884.8" r="8.80"/><circle cx="1200.4" cy="924.0" r="8.80"/><circle cx="1200.4" cy="950.9" r="8.80"/><circle cx="1200.4" cy="968.1" r="8.80"/><circle cx="1200.4" cy="1011.6" r="8.80"/><circle cx="1185.3" cy="1048.0" r="8.80"/><circle cx="1217.2" cy="1055.6" r="8.80"/><circle cx="1185.3" cy="1065.1" r="8.80"/><circle cx="1200.4" cy="1100.5" r="8.80"/><circle cx="1200.4" cy="1120.7" r="8.80"/></g>
<path d="M1252.90 1144.50 V966.60 H1295.00 V1144.50" stroke="#5555fb" stroke-width="5.00" fill="none" stroke-linejoin="miter"/>
<line x1="1274.20" y1="943.80" x2="1274.20" y2="978.20" stroke="#5555fb" stroke-width="4.30"/>
<line x1="1262.40" y1="943.80" x2="1286.00" y2="943.80" stroke="#5555fb" stroke-width="4.30"/>
<line x1="1262.40" y1="978.20" x2="1286.00" y2="978.20" stroke="#5555fb" stroke-width="4.30"/>
<g fill="#5555fb"><circle cx="1258.6" cy="901.8" r="8.80"/><circle cx="1290.0" cy="898.8" r="8.80"/><circle cx="1258.6" cy="934.3" r="8.80"/><circle cx="1290.0" cy="950.5" r="8.80"/><circle cx="1290.0" cy="976.2" r="8.80"/><circle cx="1258.6" cy="985.3" r="8.80"/><circle cx="1290.0" cy="994.4" r="8.80"/><circle cx="1274.2" cy="1060.7" r="8.80"/></g>
<path d="M1326.20 1144.50 V939.90 H1368.70 V1144.50" stroke="#0b4f64" stroke-width="5.00" fill="none" stroke-linejoin="miter"/>
<line x1="1347.60" y1="913.90" x2="1347.60" y2="960.00" stroke="#0b4f64" stroke-width="4.30"/>
<line x1="1335.80" y1="913.90" x2="1359.40" y2="913.90" stroke="#0b4f64" stroke-width="4.30"/>
<line x1="1335.80" y1="960.00" x2="1359.40" y2="960.00" stroke="#0b4f64" stroke-width="4.30"/>
<g fill="#0b4f64"><circle cx="1348.0" cy="792.6" r="8.80"/><circle cx="1363.8" cy="783.7" r="8.80"/><circle cx="1347.6" cy="828.6" r="8.80"/><circle cx="1347.6" cy="845.4" r="8.80"/><circle cx="1347.6" cy="880.2" r="8.80"/><circle cx="1331.8" cy="937.4" r="8.80"/><circle cx="1347.6" cy="946.9" r="8.80"/><circle cx="1331.8" cy="955.6" r="8.80"/><circle cx="1347.6" cy="969.1" r="8.80"/><circle cx="1339.9" cy="987.9" r="8.80"/><circle cx="1355.1" cy="990.3" r="8.80"/><circle cx="1331.8" cy="1011.6" r="8.80"/><circle cx="1363.2" cy="1019.0" r="8.80"/><circle cx="1347.6" cy="1026.7" r="8.80"/><circle cx="1347.6" cy="1076.2" r="8.80"/></g>
<path d="M1399.40 1144.50 V1030.80 H1442.10 V1144.50" stroke="#f23f3f" stroke-width="5.00" fill="none" stroke-linejoin="miter"/>
<line x1="1420.80" y1="1005.10" x2="1420.80" y2="1050.00" stroke="#f23f3f" stroke-width="4.30"/>
<line x1="1408.90" y1="1005.10" x2="1432.70" y2="1005.10" stroke="#f23f3f" stroke-width="4.30"/>
<line x1="1408.90" y1="1050.00" x2="1432.70" y2="1050.00" stroke="#f23f3f" stroke-width="4.30"/>
<g fill="#f23f3f"><circle cx="1420.8" cy="907.1" r="8.80"/><circle cx="1420.8" cy="924.6" r="8.80"/><circle cx="1420.8" cy="941.8" r="8.80"/><circle cx="1420.8" cy="977.2" r="8.80"/><circle cx="1420.8" cy="994.8" r="8.80"/><circle cx="1420.8" cy="1014.6" r="8.80"/><circle cx="1420.8" cy="1055.0" r="8.80"/><circle cx="1405.6" cy="1082.3" r="8.80"/><circle cx="1420.8" cy="1085.3" r="8.80"/><circle cx="1420.8" cy="1108.6" r="8.80"/><circle cx="1405.6" cy="1117.7" r="8.80"/><circle cx="1436.5" cy="1115.7" r="8.80"/></g>
<path d="M1180.70 775.10 V755.00 H1348.90 V775.10" stroke="#000" stroke-width="5.00" fill="none" stroke-linejoin="miter"/>
<path d="M1362.60 773.70 V753.30 H1433.00 V773.70" stroke="#000" stroke-width="5.00" fill="none" stroke-linejoin="miter"/>
<text x="1204.09" y="747.00" font-size="34.74" textLength="110.00" lengthAdjust="spacingAndGlyphs" fill="#000">p=0.04</text>
<text x="1348.24" y="743.40" font-size="33.87" textLength="107.71" lengthAdjust="spacingAndGlyphs" fill="#000">p=0.01</text>
<text transform="translate(1215.60 1196.80) rotate(-45)" x="0" y="0" font-size="43.00" text-anchor="end" style="font-kerning:normal" fill="#000">NI</text>
<text transform="translate(1288.50 1196.80) rotate(-45)" x="0" y="0" font-size="43.00" text-anchor="end" style="font-kerning:normal" fill="#000">NI + AK</text>
<text transform="translate(1362.70 1196.80) rotate(-45)" x="0" y="0" font-size="43.00" text-anchor="end" style="font-kerning:normal" fill="#000">Tc</text>
<text transform="translate(1435.60 1196.80) rotate(-45)" x="0" y="0" font-size="43.00" text-anchor="end" style="font-kerning:normal" fill="#000">Tc + AK</text>
<line x1="140.00" y1="1351.86" x2="140.00" y2="1741.30" stroke="#000" stroke-width="4.00"/>
<line x1="123.70" y1="1739.30" x2="140.00" y2="1739.30" stroke="#000" stroke-width="4.00"/>
<text x="103.84" y="1749.66" font-size="30.08" textLength="16.58" lengthAdjust="spacingAndGlyphs" fill="#000">0</text>
<line x1="123.70" y1="1642.94" x2="140.00" y2="1642.94" stroke="#000" stroke-width="4.00"/>
<text x="87.25" y="1653.30" font-size="30.08" textLength="33.17" lengthAdjust="spacingAndGlyphs" fill="#000">20</text>
<line x1="123.70" y1="1546.58" x2="140.00" y2="1546.58" stroke="#000" stroke-width="4.00"/>
<text x="87.25" y="1556.94" font-size="30.08" textLength="33.17" lengthAdjust="spacingAndGlyphs" fill="#000">40</text>
<line x1="123.70" y1="1450.22" x2="140.00" y2="1450.22" stroke="#000" stroke-width="4.00"/>
<text x="87.25" y="1460.58" font-size="30.08" textLength="33.17" lengthAdjust="spacingAndGlyphs" fill="#000">60</text>
<line x1="123.70" y1="1353.86" x2="140.00" y2="1353.86" stroke="#000" stroke-width="4.00"/>
<text x="87.25" y="1364.22" font-size="30.08" textLength="33.17" lengthAdjust="spacingAndGlyphs" fill="#000">80</text>
<line x1="140.20" y1="1739.30" x2="528.00" y2="1739.30" stroke="#000" stroke-width="4.00"/>
<text transform="translate(65.30 1609.73) rotate(-90)" x="0" y="0" font-size="44.00" textLength="126.86" lengthAdjust="spacingAndGlyphs" fill="#000">EF (%)</text>
<path d="M181.70 1739.30 V1446.80 H252.80 V1739.30" stroke="#686868" stroke-width="5.60" fill="none" stroke-linejoin="miter"/>
<g fill="#686868"><circle cx="217.1" cy="1385.6" r="8.30"/><circle cx="215.6" cy="1423.4" r="8.30"/><circle cx="222.3" cy="1430.0" r="8.30"/><circle cx="198.9" cy="1436.3" r="8.30"/><circle cx="205.6" cy="1436.7" r="8.30"/><circle cx="241.2" cy="1436.3" r="8.30"/><circle cx="225.6" cy="1435.6" r="8.30"/><circle cx="231.2" cy="1438.9" r="8.30"/><circle cx="217.8" cy="1445.6" r="8.30"/><circle cx="247.8" cy="1446.7" r="8.30"/><circle cx="244.0" cy="1441.0" r="8.30"/><circle cx="192.2" cy="1454.5" r="8.30"/><circle cx="212.3" cy="1455.6" r="8.30"/><circle cx="214.5" cy="1463.4" r="8.30"/><circle cx="217.8" cy="1472.3" r="8.30"/><circle cx="222.3" cy="1483.4" r="8.30"/><circle cx="236.0" cy="1444.0" r="8.30"/><circle cx="208.0" cy="1447.0" r="8.30"/></g>
<path d="M297.80 1739.30 V1513.30 H368.90 V1739.30" stroke="#0b4f64" stroke-width="5.60" fill="none" stroke-linejoin="miter"/>
<g fill="#0b4f64"><circle cx="345.7" cy="1474.5" r="8.30"/><circle cx="354.6" cy="1482.3" r="8.30"/><circle cx="339.0" cy="1476.7" r="8.30"/><circle cx="312.3" cy="1486.7" r="8.30"/><circle cx="321.2" cy="1485.6" r="8.30"/><circle cx="303.4" cy="1495.6" r="8.30"/><circle cx="325.7" cy="1494.5" r="8.30"/><circle cx="339.0" cy="1493.4" r="8.30"/><circle cx="345.7" cy="1501.2" r="8.30"/><circle cx="362.4" cy="1500.1" r="8.30"/><circle cx="312.3" cy="1501.2" r="8.30"/><circle cx="330.1" cy="1512.3" r="8.30"/><circle cx="352.3" cy="1516.8" r="8.30"/><circle cx="345.7" cy="1523.4" r="8.30"/><circle cx="341.2" cy="1525.7" r="8.30"/><circle cx="316.8" cy="1526.8" r="8.30"/><circle cx="325.7" cy="1542.3" r="8.30"/><circle cx="334.6" cy="1543.4" r="8.30"/><circle cx="329.0" cy="1557.9" r="8.30"/><circle cx="339.0" cy="1566.8" r="8.30"/><circle cx="357.0" cy="1512.0" r="8.30"/><circle cx="320.0" cy="1506.0" r="8.30"/></g>
<path d="M414.10 1739.30 V1490.70 H484.70 V1739.30" stroke="#fe0000" stroke-width="5.60" fill="none" stroke-linejoin="miter"/>
<line x1="449.70" y1="1477.90" x2="449.70" y2="1496.80" stroke="#fe0000" stroke-width="4.30"/>
<line x1="431.00" y1="1477.90" x2="468.40" y2="1477.90" stroke="#fe0000" stroke-width="4.30"/>
<line x1="431.00" y1="1496.80" x2="468.40" y2="1496.80" stroke="#fe0000" stroke-width="4.30"/>
<g fill="#fe0000"><circle cx="440.2" cy="1438.9" r="8.30"/><circle cx="459.1" cy="1444.5" r="8.30"/><circle cx="420.2" cy="1456.7" r="8.30"/><circle cx="439.1" cy="1466.7" r="8.30"/><circle cx="459.1" cy="1472.3" r="8.30"/><circle cx="478.0" cy="1474.1" r="8.30"/><circle cx="458.0" cy="1485.6" r="8.30"/><circle cx="420.2" cy="1510.1" r="8.30"/><circle cx="439.1" cy="1509.0" r="8.30"/><circle cx="439.1" cy="1523.4" r="8.30"/><circle cx="459.1" cy="1530.1" r="8.30"/><circle cx="478.0" cy="1532.3" r="8.30"/></g>
<path d="M240.20 1330.10 V1311.50 H456.60 V1330.10" stroke="#000" stroke-width="5.00" fill="none" stroke-linejoin="miter"/>
<path d="M218.30 1381.80 V1364.00 H327.20 V1381.80" stroke="#000" stroke-width="5.00" fill="none" stroke-linejoin="miter"/>
<path d="M353.50 1404.90 V1386.80 H462.60 V1404.90" stroke="#000" stroke-width="5.00" fill="none" stroke-linejoin="miter"/>
<text x="282.96" y="1299.40" font-size="31.83" textLength="131.91" lengthAdjust="spacingAndGlyphs" fill="#000">p=0.0001</text>
<text x="203.14" y="1359.60" font-size="31.11" textLength="132.83" lengthAdjust="spacingAndGlyphs" fill="#000">p&lt;0.0001</text>
<text x="359.70" y="1375.20" font-size="31.54" textLength="117.57" lengthAdjust="spacingAndGlyphs" fill="#000">p=0.032</text>
<text transform="translate(231.40 1793.60) rotate(-45)" x="0" y="0" font-size="43.00" text-anchor="end" style="font-kerning:normal" fill="#000">NI</text>
<text transform="translate(347.70 1793.60) rotate(-45)" x="0" y="0" font-size="43.00" text-anchor="end" style="font-kerning:normal" fill="#000">Tc</text>
<text transform="translate(464.40 1793.60) rotate(-45)" x="0" y="0" font-size="43.00" text-anchor="end" style="font-kerning:normal" fill="#000">Tc+AK</text>
<line x1="641.50" y1="1358.02" x2="641.50" y2="1746.90" stroke="#000" stroke-width="4.00"/>
<line x1="625.60" y1="1744.90" x2="641.50" y2="1744.90" stroke="#000" stroke-width="4.00"/>
<text x="605.94" y="1755.11" font-size="29.66" textLength="16.69" lengthAdjust="spacingAndGlyphs" fill="#000">0</text>
<line x1="625.60" y1="1648.68" x2="641.50" y2="1648.68" stroke="#000" stroke-width="4.00"/>
<text x="589.25" y="1658.89" font-size="29.66" textLength="33.38" lengthAdjust="spacingAndGlyphs" fill="#000">20</text>
<line x1="625.60" y1="1552.46" x2="641.50" y2="1552.46" stroke="#000" stroke-width="4.00"/>
<text x="589.25" y="1562.67" font-size="29.66" textLength="33.38" lengthAdjust="spacingAndGlyphs" fill="#000">40</text>
<line x1="625.60" y1="1456.24" x2="641.50" y2="1456.24" stroke="#000" stroke-width="4.00"/>
<text x="589.25" y="1466.45" font-size="29.66" textLength="33.38" lengthAdjust="spacingAndGlyphs" fill="#000">60</text>
<line x1="625.60" y1="1360.02" x2="641.50" y2="1360.02" stroke="#000" stroke-width="4.00"/>
<text x="589.25" y="1370.23" font-size="29.66" textLength="33.38" lengthAdjust="spacingAndGlyphs" fill="#000">80</text>
<line x1="642.20" y1="1744.90" x2="1028.00" y2="1744.90" stroke="#000" stroke-width="4.00"/>
<text transform="translate(566.90 1624.61) rotate(-90)" x="0" y="0" font-size="43.30" textLength="145.30" lengthAdjust="spacingAndGlyphs" fill="#000">SV (µL)</text>
<path d="M683.50 1744.90 V1541.80 H754.40 V1744.90" stroke="#686868" stroke-width="5.60" fill="none" stroke-linejoin="miter"/>
<line x1="719.40" y1="1525.70" x2="719.40" y2="1545.00" stroke="#686868" stroke-width="4.30"/>
<line x1="700.50" y1="1525.70" x2="738.30" y2="1525.70" stroke="#686868" stroke-width="4.30"/>
<line x1="700.50" y1="1545.00" x2="738.30" y2="1545.00" stroke="#686868" stroke-width="4.30"/>
<g fill="#686868"><circle cx="718.9" cy="1385.6" r="8.30"/><circle cx="712.3" cy="1467.8" r="8.30"/><circle cx="724.5" cy="1472.3" r="8.30"/><circle cx="718.9" cy="1500.1" r="8.30"/><circle cx="706.7" cy="1511.2" r="8.30"/><circle cx="730.5" cy="1517.9" r="8.30"/><circle cx="695.6" cy="1552.3" r="8.30"/><circle cx="707.8" cy="1553.5" r="8.30"/><circle cx="719.4" cy="1551.2" r="8.30"/><circle cx="730.5" cy="1554.6" r="8.30"/><circle cx="742.3" cy="1567.9" r="8.30"/><circle cx="690.0" cy="1574.6" r="8.30"/><circle cx="724.5" cy="1573.5" r="8.30"/><circle cx="701.1" cy="1587.9" r="8.30"/><circle cx="713.4" cy="1589.0" r="8.30"/><circle cx="736.7" cy="1589.0" r="8.30"/><circle cx="748.3" cy="1594.6" r="8.30"/></g>
<path d="M799.10 1744.90 V1611.20 H870.00 V1744.90" stroke="#0b4f64" stroke-width="5.60" fill="none" stroke-linejoin="miter"/>
<g fill="#0b4f64"><circle cx="834.6" cy="1521.7" r="8.30"/><circle cx="837.9" cy="1558.6" r="8.30"/><circle cx="845.7" cy="1573.5" r="8.30"/><circle cx="823.4" cy="1576.8" r="8.30"/><circle cx="834.6" cy="1582.4" r="8.30"/><circle cx="821.2" cy="1587.9" r="8.30"/><circle cx="842.3" cy="1589.0" r="8.30"/><circle cx="825.7" cy="1596.8" r="8.30"/><circle cx="839.0" cy="1603.5" r="8.30"/><circle cx="849.0" cy="1601.3" r="8.30"/><circle cx="834.6" cy="1612.4" r="8.30"/><circle cx="847.9" cy="1614.6" r="8.30"/><circle cx="841.2" cy="1621.3" r="8.30"/><circle cx="854.6" cy="1623.5" r="8.30"/><circle cx="861.2" cy="1630.2" r="8.30"/><circle cx="803.4" cy="1633.5" r="8.30"/><circle cx="814.5" cy="1634.6" r="8.30"/><circle cx="826.8" cy="1633.5" r="8.30"/><circle cx="831.2" cy="1658.0" r="8.30"/><circle cx="839.0" cy="1671.3" r="8.30"/></g>
<path d="M915.20 1744.90 V1611.20 H985.60 V1744.90" stroke="#fe0000" stroke-width="5.60" fill="none" stroke-linejoin="miter"/>
<line x1="950.20" y1="1601.30" x2="950.20" y2="1617.00" stroke="#fe0000" stroke-width="4.30"/>
<line x1="932.40" y1="1601.30" x2="968.00" y2="1601.30" stroke="#fe0000" stroke-width="4.30"/>
<line x1="932.40" y1="1617.00" x2="968.00" y2="1617.00" stroke="#fe0000" stroke-width="4.30"/>
<g fill="#fe0000"><circle cx="929.0" cy="1575.7" r="8.30"/><circle cx="943.5" cy="1584.6" r="8.30"/><circle cx="956.9" cy="1587.5" r="8.30"/><circle cx="972.0" cy="1581.3" r="8.30"/><circle cx="965.8" cy="1596.8" r="8.30"/><circle cx="919.0" cy="1610.2" r="8.30"/><circle cx="951.3" cy="1610.2" r="8.30"/><circle cx="979.1" cy="1610.2" r="8.30"/><circle cx="935.7" cy="1614.6" r="8.30"/><circle cx="935.7" cy="1625.7" r="8.30"/><circle cx="950.2" cy="1634.6" r="8.30"/><circle cx="965.8" cy="1648.0" r="8.30"/></g>
<path d="M714.10 1445.10 V1426.30 H823.80 V1445.10" stroke="#000" stroke-width="5.00" fill="none" stroke-linejoin="miter"/>
<path d="M752.80 1491.30 V1472.50 H940.30 V1491.30" stroke="#000" stroke-width="5.00" fill="none" stroke-linejoin="miter"/>
<text x="700.53" y="1418.70" font-size="31.25" textLength="133.34" lengthAdjust="spacingAndGlyphs" fill="#000">p&lt;0.0001</text>
<text x="787.90" y="1464.90" font-size="28.78" textLength="135.45" lengthAdjust="spacingAndGlyphs" fill="#000">p=0.0003</text>
<text transform="translate(733.30 1798.90) rotate(-45)" x="0" y="0" font-size="43.00" text-anchor="end" style="font-kerning:normal" fill="#000">NI</text>
<text transform="translate(849.20 1798.90) rotate(-45)" x="0" y="0" font-size="43.00" text-anchor="end" style="font-kerning:normal" fill="#000">Tc</text>
<text transform="translate(964.70 1798.90) rotate(-45)" x="0" y="0" font-size="43.00" text-anchor="end" style="font-kerning:normal" fill="#000">Tc+AK</text>
<line x1="1138.20" y1="1357.69" x2="1138.20" y2="1746.50" stroke="#000" stroke-width="4.00"/>
<line x1="1122.70" y1="1744.50" x2="1138.20" y2="1744.50" stroke="#000" stroke-width="4.00"/>
<text x="1104.07" y="1754.71" font-size="29.66" textLength="15.14" lengthAdjust="spacingAndGlyphs" fill="#000">0</text>
<line x1="1122.70" y1="1616.23" x2="1138.20" y2="1616.23" stroke="#000" stroke-width="4.00"/>
<text x="1088.93" y="1626.44" font-size="29.66" textLength="30.29" lengthAdjust="spacingAndGlyphs" fill="#000">50</text>
<line x1="1122.70" y1="1487.96" x2="1138.20" y2="1487.96" stroke="#000" stroke-width="4.00"/>
<text x="1073.78" y="1498.17" font-size="29.66" textLength="45.43" lengthAdjust="spacingAndGlyphs" fill="#000">100</text>
<line x1="1122.70" y1="1359.69" x2="1138.20" y2="1359.69" stroke="#000" stroke-width="4.00"/>
<text x="1073.78" y="1369.90" font-size="29.66" textLength="45.43" lengthAdjust="spacingAndGlyphs" fill="#000">150</text>
<line x1="1137.90" y1="1744.50" x2="1496.70" y2="1744.50" stroke="#000" stroke-width="4.00"/>
<text transform="translate(1056.10 1651.38) rotate(-90)" x="0" y="0" font-size="40.80" textLength="199.14" lengthAdjust="spacingAndGlyphs" fill="#000">LVDV (µL)</text>
<path d="M1176.60 1744.50 V1568.60 H1242.10 V1744.50" stroke="#686868" stroke-width="5.60" fill="none" stroke-linejoin="miter"/>
<line x1="1211.00" y1="1556.50" x2="1211.00" y2="1575.70" stroke="#686868" stroke-width="4.30"/>
<line x1="1194.40" y1="1556.50" x2="1227.60" y2="1556.50" stroke="#686868" stroke-width="4.30"/>
<line x1="1194.40" y1="1575.70" x2="1227.60" y2="1575.70" stroke="#686868" stroke-width="4.30"/>
<g fill="#686868"><circle cx="1209.3" cy="1484.4" r="8.30"/><circle cx="1202.7" cy="1509.3" r="8.30"/><circle cx="1216.0" cy="1511.0" r="8.30"/><circle cx="1209.3" cy="1519.3" r="8.30"/><circle cx="1196.0" cy="1523.3" r="8.30"/><circle cx="1222.6" cy="1539.9" r="8.30"/><circle cx="1189.4" cy="1562.5" r="8.30"/><circle cx="1202.7" cy="1570.8" r="8.30"/><circle cx="1222.6" cy="1569.1" r="8.30"/><circle cx="1229.3" cy="1568.4" r="8.30"/><circle cx="1209.3" cy="1580.7" r="8.30"/><circle cx="1222.6" cy="1587.4" r="8.30"/><circle cx="1196.0" cy="1597.3" r="8.30"/><circle cx="1182.8" cy="1604.0" r="8.30"/><circle cx="1196.0" cy="1614.0" r="8.30"/><circle cx="1209.3" cy="1614.0" r="8.30"/><circle cx="1222.6" cy="1615.6" r="8.30"/><circle cx="1235.9" cy="1623.9" r="8.30"/></g>
<path d="M1283.60 1744.50 V1594.50 H1349.40 V1744.50" stroke="#0b4f64" stroke-width="5.60" fill="none" stroke-linejoin="miter"/>
<g fill="#0b4f64"><circle cx="1317.3" cy="1490.0" r="8.30"/><circle cx="1316.3" cy="1529.2" r="8.30"/><circle cx="1320.6" cy="1547.5" r="8.30"/><circle cx="1310.7" cy="1557.5" r="8.30"/><circle cx="1302.4" cy="1567.4" r="8.30"/><circle cx="1312.3" cy="1575.7" r="8.30"/><circle cx="1328.9" cy="1578.4" r="8.30"/><circle cx="1333.9" cy="1585.7" r="8.30"/><circle cx="1289.1" cy="1594.0" r="8.30"/><circle cx="1302.4" cy="1595.7" r="8.30"/><circle cx="1315.6" cy="1594.0" r="8.30"/><circle cx="1325.6" cy="1600.7" r="8.30"/><circle cx="1342.2" cy="1607.3" r="8.30"/><circle cx="1330.6" cy="1617.3" r="8.30"/><circle cx="1304.0" cy="1623.9" r="8.30"/><circle cx="1322.3" cy="1630.6" r="8.30"/><circle cx="1312.3" cy="1637.2" r="8.30"/><circle cx="1320.6" cy="1658.8" r="8.30"/></g>
<path d="M1390.80 1744.50 V1606.10 H1456.40 V1744.50" stroke="#fe0000" stroke-width="5.60" fill="none" stroke-linejoin="miter"/>
<line x1="1423.60" y1="1597.30" x2="1423.60" y2="1612.30" stroke="#fe0000" stroke-width="4.30"/>
<line x1="1407.00" y1="1597.30" x2="1440.20" y2="1597.30" stroke="#fe0000" stroke-width="4.30"/>
<line x1="1407.00" y1="1612.30" x2="1440.20" y2="1612.30" stroke="#fe0000" stroke-width="4.30"/>
<g fill="#fe0000"><circle cx="1417.0" cy="1549.2" r="8.30"/><circle cx="1430.3" cy="1569.1" r="8.30"/><circle cx="1410.3" cy="1587.4" r="8.30"/><circle cx="1423.6" cy="1590.7" r="8.30"/><circle cx="1436.9" cy="1592.4" r="8.30"/><circle cx="1397.0" cy="1597.3" r="8.30"/><circle cx="1450.2" cy="1595.7" r="8.30"/><circle cx="1410.3" cy="1615.6" r="8.30"/><circle cx="1423.6" cy="1620.6" r="8.30"/><circle cx="1436.9" cy="1625.6" r="8.30"/><circle cx="1417.0" cy="1638.9" r="8.30"/><circle cx="1430.3" cy="1652.2" r="8.30"/></g>
<path d="M1210.30 1415.60 V1394.70 H1427.90 V1415.60" stroke="#000" stroke-width="5.00" fill="none" stroke-linejoin="miter"/>
<text x="1255.53" y="1374.80" font-size="29.07" textLength="126.95" lengthAdjust="spacingAndGlyphs" fill="#000">p = 0.013</text>
<text transform="translate(1223.80 1798.50) rotate(-45)" x="0" y="0" font-size="43.00" text-anchor="end" style="font-kerning:normal" fill="#000">NI</text>
<text transform="translate(1330.80 1798.50) rotate(-45)" x="0" y="0" font-size="43.00" text-anchor="end" style="font-kerning:normal" fill="#000">Tc</text>
<text transform="translate(1438.10 1798.50) rotate(-45)" x="0" y="0" font-size="43.00" text-anchor="end" style="font-kerning:normal" fill="#000">Tc+AK</text>
<line x1="165.80" y1="1961.21" x2="165.80" y2="2351.10" stroke="#000" stroke-width="4.00"/>
<line x1="149.50" y1="2349.10" x2="165.80" y2="2349.10" stroke="#000" stroke-width="4.00"/>
<text x="129.42" y="2359.43" font-size="30.02" textLength="16.71" lengthAdjust="spacingAndGlyphs" fill="#000">0</text>
<line x1="149.50" y1="2220.47" x2="165.80" y2="2220.47" stroke="#000" stroke-width="4.00"/>
<text x="112.71" y="2230.80" font-size="30.02" textLength="33.42" lengthAdjust="spacingAndGlyphs" fill="#000">10</text>
<line x1="149.50" y1="2091.84" x2="165.80" y2="2091.84" stroke="#000" stroke-width="4.00"/>
<text x="112.71" y="2102.17" font-size="30.02" textLength="33.42" lengthAdjust="spacingAndGlyphs" fill="#000">20</text>
<line x1="149.50" y1="1963.21" x2="165.80" y2="1963.21" stroke="#000" stroke-width="4.00"/>
<text x="112.71" y="1973.52" font-size="30.02" textLength="33.42" lengthAdjust="spacingAndGlyphs" fill="#000">30</text>
<line x1="165.80" y1="2349.10" x2="553.00" y2="2349.10" stroke="#000" stroke-width="4.00"/>
<text transform="translate(91.70 2251.09) rotate(-90)" x="0" y="0" font-size="43.30" textLength="157.68" lengthAdjust="spacingAndGlyphs" fill="#000">RV (mm</text>
<text transform="translate(72.60 2091.94) rotate(-90)" x="0" y="0" font-size="30.50" textLength="16.75" lengthAdjust="spacingAndGlyphs" fill="#000">2</text>
<text transform="translate(91.70 2073.03) rotate(-90)" x="0" y="0" font-size="43.30" textLength="11.56" lengthAdjust="spacingAndGlyphs" fill="#000">)</text>
<path d="M207.10 2349.40 V2202.90 H278.30 V2349.40" stroke="#686868" stroke-width="5.60" fill="none" stroke-linejoin="miter"/>
<line x1="242.70" y1="2194.50" x2="242.70" y2="2205.00" stroke="#686868" stroke-width="4.30"/>
<line x1="230.50" y1="2194.50" x2="254.90" y2="2194.50" stroke="#686868" stroke-width="4.30"/>
<line x1="230.50" y1="2205.00" x2="254.90" y2="2205.00" stroke="#686868" stroke-width="4.30"/>
<g fill="#686868"><circle cx="213.9" cy="2179.0" r="8.30"/><circle cx="221.7" cy="2180.1" r="8.30"/><circle cx="230.6" cy="2182.3" r="8.30"/><circle cx="239.5" cy="2185.6" r="8.30"/><circle cx="257.3" cy="2181.2" r="8.30"/><circle cx="271.7" cy="2186.8" r="8.30"/><circle cx="248.4" cy="2191.2" r="8.30"/><circle cx="261.7" cy="2193.4" r="8.30"/><circle cx="266.2" cy="2197.9" r="8.30"/><circle cx="250.6" cy="2199.0" r="8.30"/><circle cx="241.7" cy="2202.3" r="8.30"/><circle cx="220.6" cy="2211.2" r="8.30"/><circle cx="233.9" cy="2215.7" r="8.30"/><circle cx="239.5" cy="2229.0" r="8.30"/><circle cx="246.1" cy="2249.0" r="8.30"/><circle cx="228.0" cy="2188.0" r="8.30"/><circle cx="265.0" cy="2183.0" r="8.30"/><circle cx="256.0" cy="2205.0" r="8.30"/><circle cx="226.0" cy="2206.0" r="8.30"/></g>
<path d="M322.80 2349.40 V2130.60 H394.10 V2349.40" stroke="#0b4f64" stroke-width="5.60" fill="none" stroke-linejoin="miter"/>
<g fill="#0b4f64"><circle cx="358.4" cy="2031.7" r="8.30"/><circle cx="358.4" cy="2088.9" r="8.30"/><circle cx="339.1" cy="2098.2" r="8.30"/><circle cx="348.4" cy="2109.4" r="8.30"/><circle cx="359.6" cy="2108.9" r="8.30"/><circle cx="378.5" cy="2113.4" r="8.30"/><circle cx="329.5" cy="2123.4" r="8.30"/><circle cx="339.5" cy="2125.6" r="8.30"/><circle cx="350.7" cy="2126.7" r="8.30"/><circle cx="368.4" cy="2124.5" r="8.30"/><circle cx="377.3" cy="2123.4" r="8.30"/><circle cx="366.2" cy="2131.2" r="8.30"/><circle cx="367.3" cy="2143.4" r="8.30"/><circle cx="387.3" cy="2141.2" r="8.30"/><circle cx="338.4" cy="2150.1" r="8.30"/><circle cx="350.7" cy="2153.4" r="8.30"/><circle cx="359.6" cy="2155.6" r="8.30"/><circle cx="377.8" cy="2167.2" r="8.30"/><circle cx="358.4" cy="2193.0" r="8.30"/></g>
<path d="M439.10 2349.40 V2127.30 H510.20 V2349.40" stroke="#fe0000" stroke-width="5.60" fill="none" stroke-linejoin="miter"/>
<line x1="474.10" y1="2113.40" x2="474.10" y2="2133.40" stroke="#fe0000" stroke-width="4.30"/>
<line x1="455.20" y1="2113.40" x2="493.00" y2="2113.40" stroke="#fe0000" stroke-width="4.30"/>
<line x1="455.20" y1="2133.40" x2="493.00" y2="2133.40" stroke="#fe0000" stroke-width="4.30"/>
<g fill="#fe0000"><circle cx="455.2" cy="2076.7" r="8.30"/><circle cx="494.1" cy="2081.1" r="8.30"/><circle cx="474.1" cy="2090.0" r="8.30"/><circle cx="464.1" cy="2098.2" r="8.30"/><circle cx="484.1" cy="2106.7" r="8.30"/><circle cx="503.0" cy="2113.4" r="8.30"/><circle cx="445.2" cy="2118.3" r="8.30"/><circle cx="464.1" cy="2133.4" r="8.30"/><circle cx="484.1" cy="2150.1" r="8.30"/><circle cx="455.2" cy="2162.7" r="8.30"/><circle cx="474.1" cy="2170.1" r="8.30"/><circle cx="493.0" cy="2180.1" r="8.30"/></g>
<path d="M221.30 2025.50 V2006.60 H355.90 V2025.50" stroke="#000" stroke-width="5.00" fill="none" stroke-linejoin="miter"/>
<path d="M254.70 1966.60 V1947.30 H474.90 V1966.60" stroke="#000" stroke-width="5.00" fill="none" stroke-linejoin="miter"/>
<text x="218.12" y="1998.30" font-size="29.22" textLength="133.95" lengthAdjust="spacingAndGlyphs" fill="#000">p&lt;0.0001</text>
<text x="296.34" y="1936.40" font-size="29.07" textLength="133.24" lengthAdjust="spacingAndGlyphs" fill="#000">p&lt;0.0001</text>
<text transform="translate(257.20 2400.90) rotate(-45)" x="0" y="0" font-size="43.00" text-anchor="end" style="font-kerning:normal" fill="#000">NI</text>
<text transform="translate(372.90 2400.90) rotate(-45)" x="0" y="0" font-size="43.00" text-anchor="end" style="font-kerning:normal" fill="#000">Tc</text>
<text transform="translate(489.00 2400.90) rotate(-45)" x="0" y="0" font-size="43.00" text-anchor="end" style="font-kerning:normal" fill="#000">Tc+AK</text>
<line x1="672.30" y1="1941.80" x2="672.30" y2="2331.90" stroke="#000" stroke-width="4.00"/>
<line x1="655.80" y1="2329.90" x2="672.30" y2="2329.90" stroke="#000" stroke-width="4.00"/>
<text x="635.29" y="2340.26" font-size="30.08" textLength="16.63" lengthAdjust="spacingAndGlyphs" fill="#000">0</text>
<line x1="655.80" y1="2233.38" x2="672.30" y2="2233.38" stroke="#000" stroke-width="4.00"/>
<text x="634.90" y="2243.58" font-size="30.08" textLength="16.63" lengthAdjust="spacingAndGlyphs" fill="#000">5</text>
<line x1="655.80" y1="2136.85" x2="672.30" y2="2136.85" stroke="#000" stroke-width="4.00"/>
<text x="618.66" y="2147.21" font-size="30.08" textLength="33.26" lengthAdjust="spacingAndGlyphs" fill="#000">10</text>
<line x1="655.80" y1="2040.33" x2="672.30" y2="2040.33" stroke="#000" stroke-width="4.00"/>
<text x="618.27" y="2050.53" font-size="30.08" textLength="33.26" lengthAdjust="spacingAndGlyphs" fill="#000">15</text>
<line x1="655.80" y1="1943.80" x2="672.30" y2="1943.80" stroke="#000" stroke-width="4.00"/>
<text x="618.66" y="1954.16" font-size="30.08" textLength="33.26" lengthAdjust="spacingAndGlyphs" fill="#000">20</text>
<line x1="672.30" y1="2329.90" x2="1058.60" y2="2329.90" stroke="#000" stroke-width="4.00"/>
<text transform="translate(597.50 2225.98) rotate(-90)" x="0" y="0" font-size="44.00" textLength="146.86" lengthAdjust="spacingAndGlyphs" fill="#000">LV (mm</text>
<text transform="translate(578.50 2077.38) rotate(-90)" x="0" y="0" font-size="31.00" textLength="17.33" lengthAdjust="spacingAndGlyphs" fill="#000">2</text>
<text transform="translate(597.50 2058.54) rotate(-90)" x="0" y="0" font-size="44.00" textLength="12.39" lengthAdjust="spacingAndGlyphs" fill="#000">)</text>
<path d="M713.90 2329.40 V2130.70 H784.40 V2329.40" stroke="#686868" stroke-width="5.60" fill="none" stroke-linejoin="miter"/>
<line x1="749.20" y1="2118.00" x2="749.20" y2="2138.30" stroke="#686868" stroke-width="4.30"/>
<line x1="730.80" y1="2118.00" x2="767.60" y2="2118.00" stroke="#686868" stroke-width="4.30"/>
<line x1="730.80" y1="2138.30" x2="767.60" y2="2138.30" stroke="#686868" stroke-width="4.30"/>
<g fill="#686868"><circle cx="748.9" cy="1986.2" r="8.30"/><circle cx="743.4" cy="2082.3" r="8.30"/><circle cx="755.1" cy="2085.2" r="8.30"/><circle cx="725.6" cy="2101.2" r="8.30"/><circle cx="748.9" cy="2099.4" r="8.30"/><circle cx="771.6" cy="2107.2" r="8.30"/><circle cx="737.4" cy="2113.4" r="8.30"/><circle cx="761.2" cy="2115.0" r="8.30"/><circle cx="731.1" cy="2137.9" r="8.30"/><circle cx="742.3" cy="2140.1" r="8.30"/><circle cx="754.5" cy="2147.9" r="8.30"/><circle cx="765.6" cy="2152.8" r="8.30"/><circle cx="755.6" cy="2157.9" r="8.30"/><circle cx="718.9" cy="2160.1" r="8.30"/><circle cx="731.1" cy="2165.7" r="8.30"/><circle cx="743.4" cy="2171.2" r="8.30"/><circle cx="766.7" cy="2177.9" r="8.30"/><circle cx="777.8" cy="2180.1" r="8.30"/></g>
<path d="M829.60 2329.40 V2131.80 H900.00 V2329.40" stroke="#0b4f64" stroke-width="5.60" fill="none" stroke-linejoin="miter"/>
<line x1="865.00" y1="2120.00" x2="865.00" y2="2139.40" stroke="#0b4f64" stroke-width="4.30"/>
<line x1="846.60" y1="2120.00" x2="883.40" y2="2120.00" stroke="#0b4f64" stroke-width="4.30"/>
<line x1="846.60" y1="2139.40" x2="883.40" y2="2139.40" stroke="#0b4f64" stroke-width="4.30"/>
<g fill="#0b4f64"><circle cx="864.6" cy="2037.8" r="8.30"/><circle cx="868.6" cy="2047.8" r="8.30"/><circle cx="861.2" cy="2063.8" r="8.30"/><circle cx="835.6" cy="2110.1" r="8.30"/><circle cx="844.5" cy="2113.4" r="8.30"/><circle cx="853.4" cy="2119.0" r="8.30"/><circle cx="874.6" cy="2110.5" r="8.30"/><circle cx="893.5" cy="2116.8" r="8.30"/><circle cx="862.3" cy="2125.7" r="8.30"/><circle cx="873.5" cy="2125.7" r="8.30"/><circle cx="886.8" cy="2130.1" r="8.30"/><circle cx="874.6" cy="2144.6" r="8.30"/><circle cx="866.8" cy="2156.8" r="8.30"/><circle cx="855.7" cy="2159.0" r="8.30"/><circle cx="861.2" cy="2171.2" r="8.30"/><circle cx="867.9" cy="2195.0" r="8.30"/><circle cx="864.6" cy="2228.4" r="8.30"/></g>
<path d="M945.20 2329.40 V2150.70 H1015.60 V2329.40" stroke="#fe0000" stroke-width="5.60" fill="none" stroke-linejoin="miter"/>
<line x1="980.30" y1="2139.40" x2="980.30" y2="2154.60" stroke="#fe0000" stroke-width="4.30"/>
<line x1="961.90" y1="2139.40" x2="998.70" y2="2139.40" stroke="#fe0000" stroke-width="4.30"/>
<line x1="961.90" y1="2154.60" x2="998.70" y2="2154.60" stroke="#fe0000" stroke-width="4.30"/>
<g fill="#fe0000"><circle cx="951.3" cy="2109.0" r="8.30"/><circle cx="994.6" cy="2117.2" r="8.30"/><circle cx="965.7" cy="2125.2" r="8.30"/><circle cx="980.2" cy="2128.3" r="8.30"/><circle cx="1009.1" cy="2128.3" r="8.30"/><circle cx="994.6" cy="2138.6" r="8.30"/><circle cx="979.1" cy="2143.5" r="8.30"/><circle cx="965.7" cy="2160.1" r="8.30"/><circle cx="958.0" cy="2170.1" r="8.30"/><circle cx="972.4" cy="2179.0" r="8.30"/><circle cx="987.3" cy="2181.3" r="8.30"/><circle cx="1002.0" cy="2192.4" r="8.30"/></g>
<text transform="translate(763.70 2381.50) rotate(-45)" x="0" y="0" font-size="43.00" text-anchor="end" style="font-kerning:normal" fill="#000">NI</text>
<text transform="translate(879.50 2381.50) rotate(-45)" x="0" y="0" font-size="43.00" text-anchor="end" style="font-kerning:normal" fill="#000">Tc</text>
<text transform="translate(994.80 2381.50) rotate(-45)" x="0" y="0" font-size="43.00" text-anchor="end" style="font-kerning:normal" fill="#000">Tc+AK</text></svg>
</body></html>
